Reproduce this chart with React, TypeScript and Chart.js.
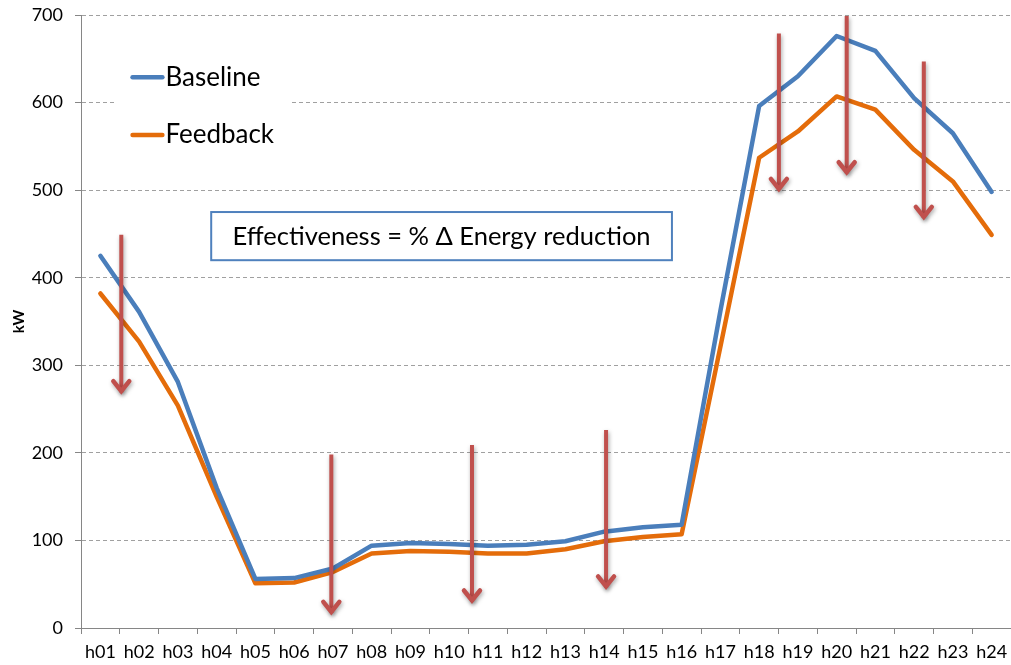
import React, { useEffect, useRef } from "react";
import { Chart, registerables } from "chart.js";

Chart.register(...registerables);

const categories = ["h01","h02","h03","h04","h05","h06","h07","h08","h09","h10","h11","h12","h13","h14","h15","h16","h17","h18","h19","h20","h21","h22","h23","h24"];
const baseline = [425, 361, 281, 160, 56, 57, 68, 94, 97, 96, 94, 95, 99, 110, 115, 118, 362, 596, 630, 676, 659, 605, 565, 498];
const feedback = [382, 327, 254, 150, 51, 52, 64, 85, 88, 87, 85, 85, 90, 99, 104, 107, 321, 537, 567, 607, 592, 546, 510, 449];
const yTicks = [0, 100, 200, 300, 400, 500, 600, 700];

// arrows: fractional category index, start value, tip value
const arrowX = [0.54, 5.96, 9.59, 13.05, 17.51, 19.26, 21.25];
const arrowTop = [449, 198, 209, 226, 679, 699, 647];
const arrowTip = [267, 15, 28, 44, 498, 517, 466];

const noteText = "Effectiveness = % Δ Energy reduction";
const FONT = "Lato, 'Open Sans', sans-serif";

const overlay = {
  id: "overlay",
  beforeDatasetsDraw(chart: any) {
    const { ctx, scales } = chart;
    const x = scales.x, y = scales.y;
    // legend box
    const bx0 = x.getPixelForValue(0.4), bx1 = x.getPixelForValue(4.9);
    const by0 = y.getPixelForValue(660), by1 = y.getPixelForValue(535);
    ctx.save();
    ctx.fillStyle = "#ffffff";
    ctx.fillRect(bx0, by0, bx1 - bx0, by1 - by0);
    const items = [
      { label: "Baseline", color: "#4A7EBB", v: 629 },
      { label: "Feedback", color: "#E46C0A", v: 563 },
    ];
    const lx0 = x.getPixelForValue(0.83), lx1 = x.getPixelForValue(1.6);
    ctx.font = "26px " + FONT;
    ctx.textBaseline = "middle";
    for (const it of items) {
      const py = y.getPixelForValue(it.v);
      ctx.strokeStyle = it.color;
      ctx.lineWidth = 4.5;
      ctx.lineCap = "round";
      ctx.beginPath();
      ctx.moveTo(lx0, py);
      ctx.lineTo(lx1, py);
      ctx.stroke();
      ctx.fillStyle = "#000";
      ctx.fillText(it.label, lx1 + 3, py);
    }
    ctx.restore();
  },
  afterDatasetsDraw(chart: any) {
    const { ctx, scales } = chart;
    const x = scales.x, y = scales.y;
    ctx.save();
    // arrows
    for (let i = 0; i < arrowX.length; i++) {
      const px = x.getPixelForValue(arrowX[i]);
      const t = y.getPixelForValue(arrowTop[i]);
      const b = y.getPixelForValue(arrowTip[i]);
      ctx.save();
      ctx.shadowColor = "rgba(0,0,0,0.35)";
      ctx.shadowBlur = 4;
      ctx.shadowOffsetX = 1;
      ctx.shadowOffsetY = 2;
      ctx.strokeStyle = "#C0504D";
      ctx.lineWidth = 4;
      ctx.lineCap = "butt";
      ctx.beginPath();
      ctx.moveTo(px, t);
      ctx.lineTo(px, b - 2);
      ctx.stroke();
      ctx.lineWidth = 4.5;
      ctx.lineJoin = "miter";
      ctx.lineCap = "round";
      ctx.beginPath();
      ctx.moveTo(px - 8, b - 13);
      ctx.lineTo(px, b - 3);
      ctx.lineTo(px + 8, b - 13);
      ctx.stroke();
      ctx.restore();
    }
    // note box
    const nx0 = x.getPixelForValue(2.86), nx1 = x.getPixelForValue(14.75);
    const ny0 = y.getPixelForValue(475), ny1 = y.getPixelForValue(420);
    ctx.fillStyle = "#ffffff";
    ctx.fillRect(nx0, ny0, nx1 - nx0, ny1 - ny0);
    ctx.strokeStyle = "#4F81BD";
    ctx.lineWidth = 2;
    ctx.strokeRect(nx0, ny0, nx1 - nx0, ny1 - ny0);
    ctx.fillStyle = "#000";
    ctx.font = "25.5px " + FONT;
    ctx.textAlign = "center";
    ctx.textBaseline = "middle";
    ctx.fillText(noteText, (nx0 + nx1) / 2, (ny0 + ny1) / 2 + 1);
    ctx.restore();
  },
};

export default function App() {
  const ref = useRef<HTMLCanvasElement | null>(null);
  useEffect(() => {
    if (!ref.current) return;
    const chart = new Chart(ref.current, {
      type: "line",
      data: {
        labels: categories,
        datasets: [
          { label: "Baseline", data: baseline, borderColor: "#4A7EBB", backgroundColor: "#4A7EBB", borderWidth: 4.5, pointRadius: 0, tension: 0, borderCapStyle: "round", borderJoinStyle: "round" },
          { label: "Feedback", data: feedback, borderColor: "#E46C0A", backgroundColor: "#E46C0A", borderWidth: 4.5, pointRadius: 0, tension: 0, borderCapStyle: "round", borderJoinStyle: "round" },
        ],
      },
      options: {
        animation: false,
        responsive: false,
        layout: { padding: { top: 15, right: 0, left: 0, bottom: 0 } },
        plugins: { legend: { display: false }, tooltip: { enabled: false } },
        scales: {
          x: {
            offset: true,
            grid: { display: true, offset: true, drawOnChartArea: false, drawTicks: true, tickLength: 6, color: "#868686" },
            border: { display: true, color: "#868686", width: 1 },
            ticks: { color: "#000", font: { family: FONT, size: 18 }, padding: 7, maxRotation: 0, autoSkip: false },
            afterFit: (s: any) => { s.height = 37; s.paddingLeft = 0; s.paddingRight = 0; },
          },
          y: {
            min: 0,
            max: 700,
            afterBuildTicks: (s: any) => { s.ticks = yTicks.map((v) => ({ value: v })); },
            grid: { color: "#a0a0a0", tickLength: 6, tickColor: "#868686", tickBorderDash: [] } as any,
            border: { display: true, color: "#868686", width: 1, dash: [4, 3] } as any,
            ticks: { color: "#000", font: { family: FONT, size: 18 }, padding: 12 },
            title: { display: true, text: "kW", color: "#000", font: { family: FONT, size: 15, weight: "bold" }, padding: { top: 10, bottom: 0 } },
            afterFit: (s: any) => { s.width = 81; s.paddingTop = 0; s.paddingBottom = 0; },
          },
        },
      },
      plugins: [overlay],
    });
    return () => chart.destroy();
  }, []);
  return (
    <div style={{ position: "absolute", left: 0, top: 0, width: 1011, height: 665, background: "#fff" }}>
      <canvas ref={ref} width={1011} height={665} style={{ display: "block" }} />
    </div>
  );
}
